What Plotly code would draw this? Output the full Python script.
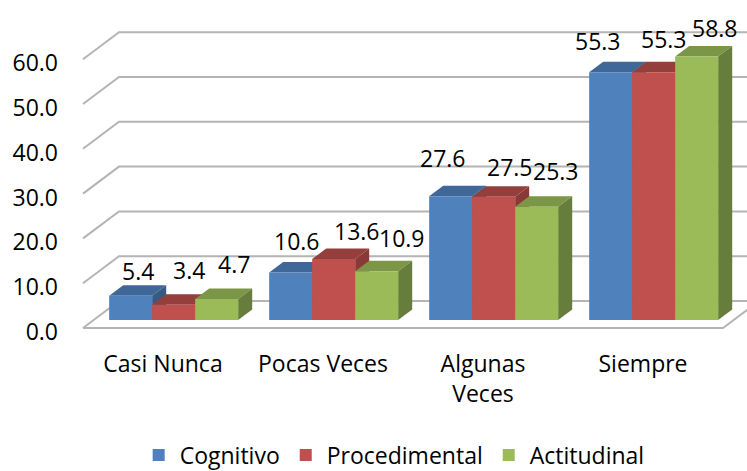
import plotly.graph_objects as go

categories = ["Casi Nunca", "Pocas Veces", "Algunas<br>Veces", "Siempre"]
cognitivo = [5.4, 10.6, 27.6, 55.3]
procedimental = [3.4, 13.6, 27.5, 55.3]
actitudinal = [4.7, 10.9, 25.3, 58.8]
y_ticks = [0, 10, 20, 30, 40, 50, 60]

series = [
    ("Cognitivo", cognitivo, "#4F81BD", "#3F6797", "#375A83"),
    ("Procedimental", procedimental, "#C0504D", "#953F3D", "#8A3937"),
    ("Actitudinal", actitudinal, "#9BBB59", "#7C9647", "#677D3C"),
]

# label nudges in px, the original labels were hand placed by Excel
label_shift = [
    [(7, 25), (6, 32), (-8, 38), (-13, 31)],
    [(15, 35), (23, 28), (16, 30), (10, 33)],
    [(17, 35), (25, 33), (19, 36), (18, 29)],
]

W, H = 747, 471
L, T, R, B = 59, 2, 747, 348
PX_X = 160.0   # px per category
PX_Y = 4.48    # px per value unit
DX = 36 / PX_X  # depth of the chart box in axis units
DY = 27 / PX_Y
BAR_W = 43 / PX_X
BAR_D0 = 0.296  # where the bars stand on the floor
BAR_D1 = 0.686
GRID = "#B4B4B4"
FONT_SIZE = 23


def proj(u, v, d):
    return u + d * DX, v + d * DY


def path(points):
    pts = [proj(*p) for p in points]
    return "M " + " L ".join(f"{x:.4f},{y:.4f}" for x, y in pts)


def grid_shape(points):
    return dict(type="path", path=path(points), layer="below", xref="x", yref="y",
                line=dict(color=GRID, width=2))


def face(points, color):
    return dict(type="path", path=path(points) + " Z", layer="below", xref="x", yref="y",
                fillcolor=color, line=dict(width=0))


x_first, x_last = -0.5, len(categories) - 0.5
shapes = [grid_shape([(x_first, t, 0), (x_first, t, 1), (x_last, t, 1)]) for t in y_ticks]
shapes.append(grid_shape([(x_first, 0, 0), (x_last, 0, 0), (x_last, 0, 1)]))

fig = go.Figure()
annotations = []
for s, (name, values, front, top, side) in enumerate(series):
    xs = []
    for i, v in enumerate(values):
        u0 = i + (s - 1.5) * BAR_W
        u1 = u0 + BAR_W
        shapes.append(face([(u0, v, BAR_D0), (u1, v, BAR_D0), (u1, v, BAR_D1), (u0, v, BAR_D1)], top))
        shapes.append(face([(u1, 0, BAR_D0), (u1, v, BAR_D0), (u1, v, BAR_D1), (u1, 0, BAR_D1)], side))
        xc, base = proj(i + (s - 1) * BAR_W, 0, BAR_D0)
        xs.append(xc)
        annotations.append(dict(
            x=xc, y=base + v, xref="x", yref="y", text=f"{v:.1f}", showarrow=False,
            xshift=label_shift[s][i][0], yshift=label_shift[s][i][1],
            font=dict(size=FONT_SIZE, color="#000000"),
        ))
    fig.add_trace(go.Bar(x=xs, y=values, base=BAR_D0 * DY, width=BAR_W, name=name,
                         marker=dict(color=front, line=dict(width=0)), hoverinfo="y"))

fig.update_layout(
    width=W, height=H,
    margin=dict(l=L, r=W - R, t=T, b=H - B, autoexpand=False),
    paper_bgcolor="white", plot_bgcolor="rgba(0,0,0,0)",
    font=dict(family="Open Sans", size=FONT_SIZE, color="#000000"),
    barmode="overlay",
    shapes=shapes,
    annotations=annotations,
    legend=dict(orientation="h", x=0.527, xref="container", xanchor="center",
                y=(B - 455) / (B - T), yanchor="middle", itemwidth=32,
                font=dict(size=23), traceorder="normal"),
)
fig.update_xaxes(
    range=[(L - 83) / PX_X - 0.5, (R - 83) / PX_X - 0.5],
    tickvals=list(range(len(categories))), ticktext=categories,
    showgrid=False, zeroline=False, showline=False, ticks="", tickfont=dict(size=FONT_SIZE),
)
# labels sit a few px under the grid line ends in the original
fig.update_yaxes(
    range=[(328 - B) / PX_Y, (328 - T) / PX_Y],
    tickvals=[t - 4 / PX_Y for t in y_ticks], ticktext=[f"{t:.1f}" for t in y_ticks],
    showgrid=False, zeroline=False, showline=False, ticks="", tickfont=dict(size=FONT_SIZE),
)

fig.write_html("out.html", config={"displayModeBar": False},
               post_script="document.body.style.margin='0';")
